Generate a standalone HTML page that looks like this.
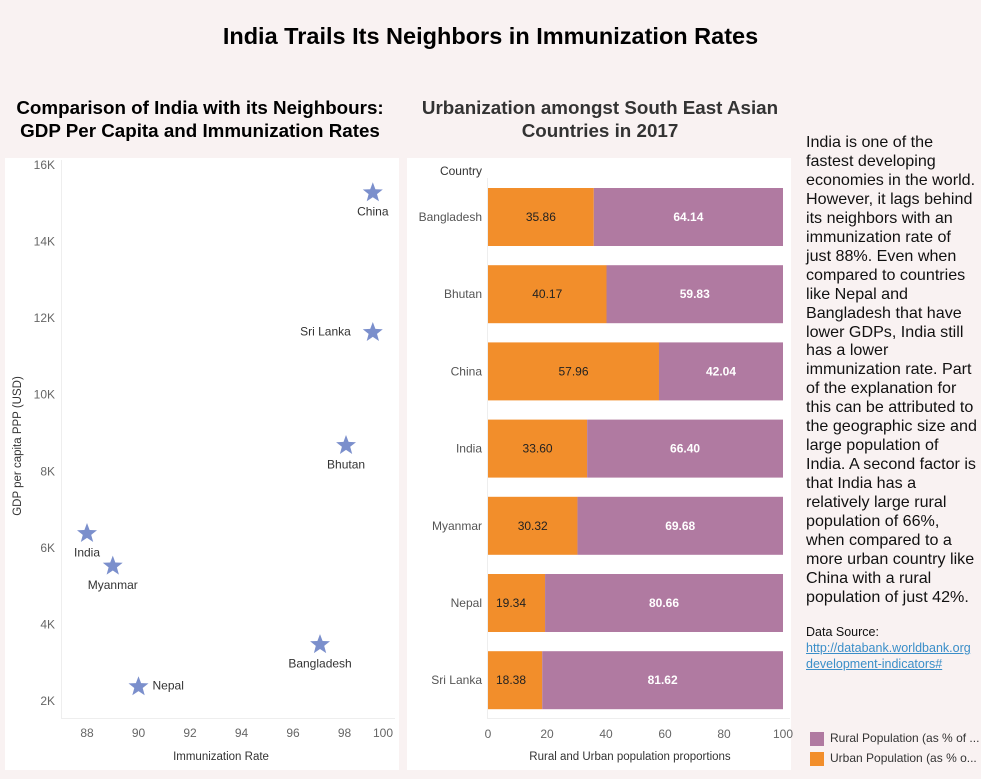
<!DOCTYPE html>
<html><head><meta charset="utf-8"><style>
body{margin:0;width:981px;height:779px;background:#f9f2f2;font-family:"Liberation Sans",sans-serif;position:relative;overflow:hidden}
.abs{position:absolute}
.panel{position:absolute;background:#fff}
h1{position:absolute;margin:0;left:0;width:981px;top:23px;text-align:center;font-size:23.5px;font-weight:bold;color:#000}
.st{position:absolute;text-align:center;font-weight:bold;font-size:18.8px;line-height:23px}
#story{left:806px;top:133px;font-size:16.1px;line-height:18.96px;color:#111;white-space:nowrap}
svg text{font-family:"Liberation Sans",sans-serif}
</style></head><body>
<h1>India Trails Its Neighbors in Immunization Rates</h1>
<div class="st" style="left:0;width:400px;top:96px;color:#000">Comparison of India with its Neighbours:<br>GDP Per Capita and Immunization Rates</div>
<div class="st" style="left:400px;width:400px;top:96px;color:#333">Urbanization amongst South East Asian<br>Countries in 2017</div>
<div class="panel" style="left:5px;top:158px;width:394px;height:612px"></div>
<div class="panel" style="left:407px;top:158px;width:384px;height:612px"></div>
<svg class="abs" style="left:0;top:0" width="981" height="779">
<g id="scatter"></g>
<g id="bars"></g>
</svg>
<div id="story" class="abs">India is one of the<br>fastest developing<br>economies in the world.<br>However, it lags behind<br>its neighbors with an<br>immunization rate of<br>just 88%. Even when<br>compared to countries<br>like Nepal and<br>Bangladesh that have<br>lower GDPs, India still<br>has a lower<br>immunization rate. Part<br>of the explanation for<br>this can be attributed to<br>the geographic size and<br>large population of<br>India. A second factor is<br>that India has a<br>relatively large rural<br>population of 66%,<br>when compared to a<br>more urban country like<br>China with a rural<br>population of just 42%.</div>
<div class="abs" style="left:806px;top:624px;font-size:12.5px;line-height:16px;white-space:nowrap;color:#111">Data Source:<br><span style="color:#3a8ec8;text-decoration:underline">http://databank.worldbank.org</span><br><span style="color:#3a8ec8;text-decoration:underline">development-indicators#</span></div>
<div class="abs" style="left:810px;top:731px;font-size:12px;color:#333;white-space:nowrap">
<div style="height:20px"><span style="display:inline-block;width:14px;height:14px;background:#b07aa1;vertical-align:middle;margin-right:6px"></span>Rural Population (as % of ...</div>
<div style="height:20px"><span style="display:inline-block;width:14px;height:14px;background:#f28e2b;vertical-align:middle;margin-right:6px"></span>Urban Population (as % o...</div>
</div>
<script>
const NS='http://www.w3.org/2000/svg';
function mk(tag,attrs,parent,text){const e=document.createElementNS(NS,tag);for(const k in attrs)e.setAttribute(k,attrs[k]);if(text!==undefined)e.textContent=text;parent.appendChild(e);return e;}
// scatter data
const countries=['China','Sri Lanka','Bhutan','India','Myanmar','Bangladesh','Nepal'];
const immunization=[99.1,99.1,98.06,88,89,97.05,90];
const gdpK=[15.3,11.65,8.7,6.4,5.55,3.5,2.4];
const labelPos=['below','left','below','below','below','below','right'];
const xTicks=[88,90,92,94,96,98,100];
const yTicks=[2,4,6,8,10,12,14,16];
// bar data
const barCountries=['Bangladesh','Bhutan','China','India','Myanmar','Nepal','Sri Lanka'];
const urban=[35.86,40.17,57.96,33.60,30.32,19.34,18.38];
const rural=[64.14,59.83,42.04,66.40,69.68,80.66,81.62];
const barTicks=[0,20,40,60,80,100];

const sx=v=>87+(v-88)*25.75, sy=v=>701-(v-2)*38.29;
const sc=document.getElementById('scatter');
mk('line',{x1:61.5,y1:160,x2:61.5,y2:718,stroke:'#eee'},sc);
mk('line',{x1:61,y1:718.5,x2:395,y2:718.5,stroke:'#eee'},sc);
yTicks.forEach(t=>{const e=mk('text',{x:55,y:sy(t)+4,'text-anchor':'end','font-size':12,fill:'#666'},sc,t+'K');
});
xTicks.forEach(t=>{const x=Math.min(sx(t),383);const e=mk('text',{x:x,y:737,'text-anchor':'middle','font-size':12,fill:'#666'},sc,t);
});
let e=mk('text',{x:221,y:760,'text-anchor':'middle','font-size':11.5,fill:'#333'},sc,'Immunization Rate');

e=mk('text',{x:0,y:0,'text-anchor':'middle','font-size':11.5,fill:'#333',transform:'translate(21,446) rotate(-90)'},sc,'GDP per capita PPP (USD)');

function star(cx,cy,R){let p=[];for(let i=0;i<10;i++){const r=i%2?R*0.42:R;const a=-Math.PI/2+i*Math.PI/5;p.push((cx+r*Math.cos(a)).toFixed(1)+','+(cy+r*Math.sin(a)).toFixed(1));}return p.join(' ');}
countries.forEach((c,i)=>{const x=sx(immunization[i]),y=sy(gdpK[i]);
const s=mk('polygon',{points:star(x,y+1,10.5),fill:'#7b8fcc'},sc);


let lx=x,ly=y+24,anc='middle';
if(labelPos[i]==='left'){lx=x-22;ly=y+4;anc='end';}
if(labelPos[i]==='right'){lx=x+14;ly=y+4;anc='start';}
const t=mk('text',{x:lx,y:ly,'text-anchor':anc,'font-size':12,fill:'#333'},sc,c);

});

const bx=v=>488+v*2.95;
const bg=document.getElementById('bars');
mk('line',{x1:487.5,y1:178,x2:487.5,y2:718,stroke:'#eee'},bg);
mk('line',{x1:487,y1:718.5,x2:790,y2:718.5,stroke:'#eee'},bg);
e=mk('text',{x:482,y:175,'text-anchor':'end','font-size':12,fill:'#333'},bg,'Country');

barTicks.forEach(t=>{const e=mk('text',{x:bx(t),y:738,'text-anchor':'middle','font-size':12,fill:'#666'},bg,t);
});
e=mk('text',{x:630,y:760,'text-anchor':'middle','font-size':11.5,fill:'#333'},bg,'Rural and Urban population proportions');

barCountries.forEach((c,i)=>{const top=188+i*77.2,h=58;
const u=mk('rect',{x:bx(0),y:top,width:bx(urban[i])-bx(0),height:h,fill:'#f28e2b'},bg);


const r=mk('rect',{x:bx(urban[i]),y:top,width:bx(urban[i]+rural[i])-bx(urban[i]),height:h,fill:'#b07aa1'},bg);


const l=mk('text',{x:482,y:top+h/2+4,'text-anchor':'end','font-size':12,fill:'#555'},bg,c);


const uw=bx(urban[i])-bx(0);
const ut=mk('text',{x:uw<60?bx(0)+8:bx(urban[i]/2),y:top+h/2+4,'text-anchor':uw<60?'start':'middle','font-size':12,fill:'#222'},bg,urban[i].toFixed(2));


const rt=mk('text',{x:bx(urban[i]+rural[i]/2),y:top+h/2+4,'text-anchor':'middle','font-size':12,'font-weight':'bold',fill:'#fff'},bg,rural[i].toFixed(2));

});
</script>
</body></html>
